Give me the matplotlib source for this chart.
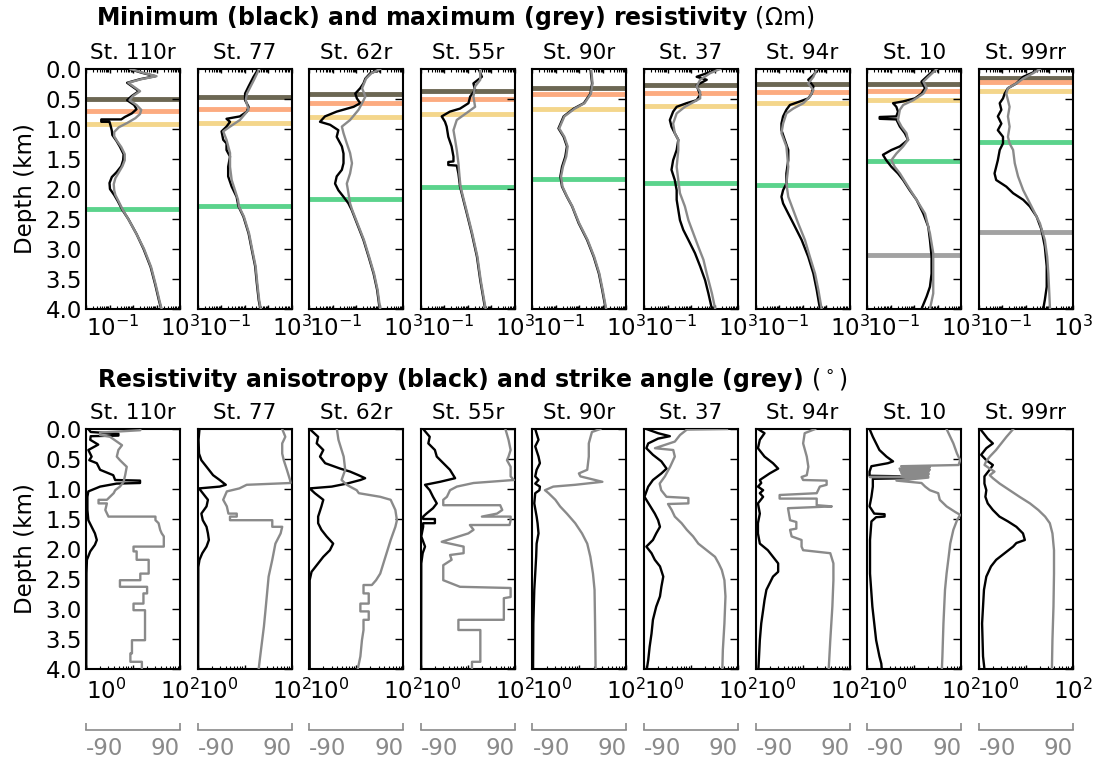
import numpy as np
import matplotlib
matplotlib.use("Agg")
import matplotlib.pyplot as plt
from matplotlib.ticker import LogLocator, NullFormatter

plt.rcParams["font.family"] = "DejaVu Sans"
plt.rcParams["axes.unicode_minus"] = False

stations = ["St. 110r", "St. 77", "St. 62r", "St. 55r", "St. 90r",
            "St. 37", "St. 94r", "St. 10", "St. 99rr"]

# ---- top row: (depth km, log10 resistivity Ohm m) ----
rmin_110r = [(0.00, 0.85), (0.06, 1.35), (0.12, 1.95), (0.17, 1.30), (0.23, 0.75), (0.30, 1.00),
             (0.37, 1.25), (0.45, 0.95), (0.52, 0.75), (0.60, 1.05), (0.67, 1.15), (0.74, 0.95),
             (0.80, 0.65), (0.84, 0.50), (0.84, -0.35), (0.88, -0.35), (0.88, 0.00), (0.95, 0.05),
             (1.03, 0.10), (1.10, 0.12), (1.20, 0.30), (1.30, 0.45), (1.42, 0.60), (1.52, 0.58),
             (1.62, 0.50), (1.72, 0.30), (1.80, 0.10), (1.90, 0.00), (2.00, 0.02), (2.10, 0.20),
             (2.20, 0.35), (2.35, 0.55), (2.50, 0.80), (2.75, 1.15), (3.00, 1.45), (3.30, 1.75),
             (3.60, 1.95), (3.85, 2.10), (4.00, 2.20)]
rmax_110r = [(0.00, 0.90), (0.06, 1.40), (0.12, 2.00), (0.17, 1.35), (0.23, 0.80), (0.30, 1.05),
             (0.37, 1.30), (0.45, 1.00), (0.52, 0.85), (0.60, 1.15), (0.68, 1.35), (0.75, 1.30),
             (0.82, 1.10), (0.90, 0.75), (0.97, 0.40), (1.05, 0.20), (1.12, 0.20), (1.20, 0.32),
             (1.30, 0.50), (1.42, 0.65), (1.52, 0.65), (1.62, 0.55), (1.72, 0.40), (1.82, 0.25),
             (1.92, 0.18), (2.02, 0.20), (2.10, 0.25), (2.20, 0.38), (2.35, 0.57), (2.50, 0.80),
             (2.75, 1.15), (3.00, 1.47), (3.30, 1.77), (3.60, 1.97), (3.85, 2.12), (4.00, 2.22)]
rmin_77 = [(0.00, 1.55), (0.04, 1.52), (0.13, 1.38), (0.29, 1.17), (0.41, 1.02), (0.52, 1.02),
           (0.63, 1.17), (0.71, 1.10), (0.79, 0.80), (0.83, 0.23), (0.88, 0.38), (0.96, 0.23),
           (1.04, 0.02), (1.18, 0.09), (1.24, 0.23), (1.35, 0.23), (1.46, 0.38), (1.63, 0.30),
           (1.79, 0.30), (1.96, 0.45), (2.13, 0.66), (2.29, 0.74), (2.46, 0.95), (2.74, 1.17),
           (3.02, 1.31), (3.29, 1.45), (3.57, 1.52), (3.85, 1.60), (4.00, 1.67)]
rmax_77 = [(0.00, 1.62), (0.18, 1.40), (0.41, 1.10), (0.52, 1.05), (0.68, 1.17), (0.85, 0.80),
           (0.96, 0.38), (1.04, 0.09), (1.18, 0.23), (1.40, 0.38), (1.63, 0.38), (1.85, 0.45),
           (2.02, 0.59), (2.18, 0.72), (2.29, 0.76), (2.46, 0.97), (2.74, 1.19), (3.02, 1.33),
           (3.29, 1.47), (3.57, 1.54), (3.85, 1.62), (4.00, 1.69)]
rmin_62r = [(0.00, 2.00), (0.02, 1.96), (0.07, 1.60), (0.16, 1.39), (0.24, 1.31), (0.32, 1.17),
            (0.41, 0.96), (0.49, 1.03), (0.57, 1.17), (0.63, 0.89), (0.71, 0.17), (0.79, -0.33),
            (0.88, -0.54), (0.93, -0.11), (1.02, 0.24), (1.13, 0.17), (1.29, 0.39), (1.41, 0.46),
            (1.57, 0.46), (1.68, 0.39), (1.79, 0.17), (1.91, 0.10), (2.02, 0.24), (2.13, 0.46),
            (2.24, 0.67), (2.35, 0.81), (2.57, 1.03), (2.85, 1.31), (3.13, 1.53), (3.41, 1.74),
            (3.68, 1.89), (4.00, 2.00)]
rmax_62r = [(0.00, 2.02), (0.07, 1.65), (0.16, 1.42), (0.32, 1.25), (0.46, 1.39), (0.57, 1.25),
            (0.68, 1.10), (0.85, 0.74), (0.96, 0.39), (1.07, 0.46), (1.24, 0.60), (1.40, 0.74),
            (1.57, 0.82), (1.74, 0.74), (1.91, 0.60), (2.07, 0.67), (2.24, 0.74), (2.35, 0.83),
            (2.57, 1.05), (2.85, 1.33), (3.13, 1.55), (3.41, 1.76), (3.68, 1.91), (4.00, 2.02)]
rmin_55r = [(0.00, 1.46), (0.13, 1.60), (0.24, 1.24), (0.35, 1.31), (0.46, 1.10), (0.57, 1.03),
            (0.66, 0.67), (0.71, 0.24), (0.79, -0.11), (0.88, 0.03), (0.96, 0.10), (1.13, 0.17),
            (1.29, 0.31), (1.46, 0.39), (1.54, 0.39), (1.55, 0.17), (1.60, 0.17), (1.61, 0.53),
            (1.74, 0.60), (1.96, 0.67), (2.18, 0.81), (2.41, 0.96), (2.74, 1.17), (3.13, 1.39),
            (3.52, 1.53), (4.00, 1.74)]
rmax_55r = [(0.00, 1.53), (0.18, 1.53), (0.29, 1.31), (0.46, 1.24), (0.63, 1.31), (0.71, 1.03),
            (0.85, 0.53), (1.02, 0.39), (1.18, 0.46), (1.35, 0.53), (1.57, 0.60), (1.80, 0.65),
            (1.96, 0.69), (2.18, 0.83), (2.41, 0.98), (2.74, 1.19), (3.13, 1.41), (3.52, 1.55),
            (4.00, 1.76)]
rmin_90r = [(0.00, 1.47), (0.24, 1.54), (0.41, 1.47), (0.57, 1.19), (0.66, 0.76), (0.79, 0.33),
            (0.99, 0.11), (1.13, 0.33), (1.29, 0.47), (1.46, 0.40), (1.63, 0.26), (1.79, 0.19),
            (1.96, 0.26), (2.13, 0.47), (2.29, 0.69), (2.57, 0.97), (2.85, 1.33), (3.13, 1.61),
            (3.41, 1.83), (3.68, 1.97), (4.00, 2.12)]
rmax_90r = [(0.00, 1.50), (0.24, 1.56), (0.41, 1.49), (0.57, 1.22), (0.66, 0.80), (0.79, 0.36),
            (0.99, 0.14), (1.13, 0.36), (1.29, 0.50), (1.46, 0.44), (1.63, 0.30), (1.79, 0.22),
            (1.96, 0.28), (2.13, 0.48), (2.29, 0.70), (2.57, 0.99), (2.85, 1.35), (3.13, 1.63),
            (3.41, 1.85), (3.68, 1.99), (4.00, 2.14)]
rmin_37 = [(0.00, 2.17), (0.07, 1.67), (0.13, 1.24), (0.18, 1.67), (0.27, 1.24), (0.35, 1.31),
           (0.43, 1.39), (0.52, 1.24), (0.57, 0.81), (0.63, 0.39), (0.71, 0.24), (0.85, 0.10),
           (0.96, 0.17), (1.07, 0.31), (1.18, 0.46), (1.35, 0.39), (1.52, 0.24), (1.68, 0.17),
           (1.85, 0.31), (2.02, 0.39), (2.18, 0.39), (2.35, 0.46), (2.52, 0.53), (2.68, 0.67),
           (2.85, 0.89), (3.07, 1.17), (3.29, 1.39), (3.52, 1.60), (3.74, 1.74), (4.00, 1.89)]
rmax_37 = [(0.00, 2.24), (0.07, 1.81), (0.18, 1.39), (0.29, 1.24), (0.38, 1.39), (0.49, 1.39),
           (0.63, 0.74), (0.74, 0.39), (0.91, 0.24), (1.07, 0.31), (1.18, 0.46), (1.35, 0.46),
           (1.63, 0.39), (1.85, 0.46), (2.07, 0.53), (2.29, 0.74), (2.52, 0.89), (2.74, 1.10),
           (2.96, 1.31), (3.18, 1.53), (3.41, 1.67), (3.74, 1.89), (4.00, 2.03)]
rmin_94r = [(0.00, 1.67), (0.10, 1.46), (0.18, 1.24), (0.29, 1.46), (0.41, 1.39), (0.49, 1.24),
            (0.54, 0.89), (0.60, 0.46), (0.68, 0.31), (0.79, 0.17), (0.91, 0.10), (1.02, 0.10),
            (1.18, 0.24), (1.35, 0.39), (1.52, 0.39), (1.74, 0.31), (1.91, 0.31), (2.02, 0.17),
            (2.13, 0.10), (2.24, 0.17), (2.41, 0.39), (2.57, 0.60), (2.85, 0.96), (3.13, 1.24),
            (3.41, 1.46), (3.68, 1.60), (4.00, 1.74)]
rmax_94r = [(0.00, 1.60), (0.13, 1.46), (0.24, 1.24), (0.35, 1.46), (0.46, 1.31), (0.57, 1.03),
            (0.66, 0.60), (0.74, 0.31), (0.91, 0.17), (1.07, 0.10), (1.29, 0.31), (1.63, 0.39),
            (1.91, 0.31), (2.13, 0.39), (2.35, 0.60), (2.57, 0.81), (2.85, 1.10), (3.13, 1.31),
            (3.41, 1.53), (3.68, 1.67), (4.00, 1.81)]
rmin_10 = [(0.00, 1.89), (0.13, 1.53), (0.21, 1.31), (0.32, 1.46), (0.41, 1.31), (0.49, 1.03),
           (0.54, 0.53), (0.57, 0.10), (0.63, 0.24), (0.71, 0.31), (0.79, 0.24), (0.80, -0.47),
           (0.83, -0.47), (0.84, 0.24), (0.96, 0.39), (1.07, 0.60), (1.18, 0.74), (1.29, 0.39),
           (1.35, 0.03), (1.43, -0.33), (1.52, -0.19), (1.63, 0.03), (1.74, 0.31), (1.85, 0.53),
           (2.02, 0.81), (2.18, 1.10), (2.41, 1.39), (2.63, 1.60), (2.85, 1.67), (3.13, 1.74),
           (3.41, 1.74), (3.63, 1.67), (3.79, 1.53), (4.00, 1.31)]
rmax_10 = [(0.00, 1.96), (0.13, 1.60), (0.21, 1.39), (0.32, 1.53), (0.41, 1.39), (0.52, 0.96),
           (0.60, 0.53), (0.68, 0.39), (0.85, 0.31), (0.96, 0.46), (1.07, 0.67), (1.18, 0.74),
           (1.29, 0.53), (1.41, 0.24), (1.52, 0.03), (1.63, 0.17), (1.74, 0.39), (1.96, 0.74),
           (2.18, 1.10), (2.41, 1.46), (2.74, 1.67), (3.07, 1.81), (3.41, 1.81), (3.74, 1.81),
           (4.00, 1.67)]
rmin_99rr = [(0.00, 1.60), (0.07, 1.24), (0.13, 0.89), (0.24, 0.60), (0.32, 0.24), (0.41, 0.10),
             (0.49, 0.03), (0.57, -0.11), (0.68, -0.04), (0.79, -0.19), (0.91, -0.04), (1.02, -0.19),
             (1.13, 0.03), (1.24, 0.03), (1.35, -0.11), (1.52, -0.19), (1.63, -0.26), (1.74, -0.33),
             (1.85, -0.26), (1.96, 0.17), (2.07, 0.46), (2.18, 0.89), (2.29, 1.17), (2.46, 1.46),
             (2.68, 1.67), (2.96, 1.81), (3.29, 1.89), (3.63, 1.89), (3.85, 1.81), (4.00, 1.74)]
rmax_99rr = [(0.00, 1.60), (0.07, 1.31), (0.16, 0.89), (0.24, 0.60), (0.32, 0.24), (0.41, 0.17),
             (0.52, 0.24), (0.63, 0.31), (0.79, 0.24), (0.96, 0.31), (1.13, 0.24), (1.24, 0.31),
             (1.35, 0.46), (1.57, 0.53), (1.79, 0.67), (2.02, 0.89), (2.29, 1.24), (2.57, 1.60),
             (2.85, 1.81), (3.13, 1.91), (3.41, 1.96), (3.74, 2.00), (4.00, 2.03)]

# interface depths (km): dark, orange, yellow, green, grey
iface_110r = [0.50, 0.70, 0.91, 2.34]
iface_77 = [0.47, 0.66, 0.90, 2.28]
iface_62r = [0.41, 0.56, 0.80, 2.16]
iface_55r = [0.36, 0.50, 0.745, 1.97]
iface_90r = [0.31, 0.42, 0.67, 1.83]
iface_37 = [0.26, 0.40, 0.62, 1.90]
iface_94r = [0.245, 0.38, 0.57, 1.94]
iface_10 = [0.245, 0.37, 0.52, 1.53, 3.10]
iface_99rr = [0.145, 0.22, 0.37, 1.21, 2.71]

# ---- bottom row: anisotropy (depth km, log10 ratio) and strike (depth km, deg) ----
anis_110r = [(0.00, 0.05), (0.05, 0.10), (0.08, 0.69), (0.11, 0.69), (0.12, 0.10), (0.18, 0.09),
             (0.26, 0.26), (0.35, 0.05), (0.46, 0.12), (0.52, 0.07), (0.57, 0.23), (0.68, 0.30),
             (0.77, 0.58), (0.85, 0.62), (0.86, 1.15), (0.90, 1.15), (0.91, 0.65), (0.96, 0.30),
             (1.04, 0.05), (1.13, 0.03), (1.35, 0.03), (1.52, 0.05), (1.63, 0.12), (1.74, 0.19),
             (1.85, 0.23), (1.93, 0.19), (2.04, 0.09), (2.18, 0.02), (2.40, 0.01), (4.00, 0.005)]
strike_110r = [(0.00, 14), (0.02, 14), (0.06, -63), (0.10, -63), (0.13, -44), (0.27, -21),
               (0.35, -28), (0.46, -31), (0.52, -25), (0.63, -12), (0.77, -15), (0.88, -18),
               (0.96, -25), (1.02, -34), (1.07, -37), (1.18, -50), (1.18, -66), (1.24, -66),
               (1.24, -50), (1.35, -53), (1.46, -47), (1.46, 43), (1.52, 43), (1.57, 49),
               (1.68, 52), (1.74, 55), (1.79, 59), (1.96, 59), (1.96, 1), (2.04, 1), (2.04, 7),
               (2.18, 7), (2.18, 30), (2.41, 30), (2.41, 14), (2.52, 14), (2.52, -25), (2.63, -25),
               (2.63, 27), (2.74, 27), (2.74, 20), (2.91, 20), (2.91, 1), (3.02, 1), (3.02, 23),
               (3.52, 23), (3.52, -2), (3.74, -2), (3.74, -5), (3.88, -5), (3.88, 17), (4.00, 17)]
anis_77 = [(0.00, 0.04), (0.18, 0.02), (0.41, 0.03), (0.52, 0.08), (0.63, 0.19), (0.77, 0.33),
           (0.85, 0.47), (0.93, 0.60), (0.96, 0.47), (0.99, 0.03), (1.07, 0.11), (1.18, 0.22),
           (1.29, 0.19), (1.41, 0.08), (1.52, 0.11), (1.63, 0.19), (1.74, 0.22), (1.85, 0.24),
           (1.96, 0.19), (2.07, 0.10), (2.18, 0.04), (2.30, 0.015), (4.00, 0.01)]
strike_77 = [(0.00, 72), (0.13, 78), (0.24, 72), (0.41, 72), (0.52, 75), (0.68, 81), (0.85, 87),
             (0.90, 88), (0.93, 4), (0.99, -10), (1.04, -34), (1.18, -41), (1.29, -34), (1.41, -31),
             (1.41, -15), (1.46, -15), (1.46, -28), (1.52, -28), (1.52, 53), (1.63, 53), (1.63, 72),
             (1.74, 69), (1.91, 59), (2.18, 53), (2.46, 46), (2.74, 43), (3.02, 40), (3.29, 37),
             (3.57, 33), (3.85, 29), (4.00, 27)]
anis_62r = [(0.00, 0.01), (0.13, 0.19), (0.24, 0.16), (0.35, 0.30), (0.46, 0.23), (0.57, 0.34),
            (0.66, 0.66), (0.71, 0.87), (0.77, 1.05), (0.82, 1.19), (0.85, 1.09), (0.91, 0.80),
            (0.96, 0.48), (0.99, 0.01), (1.07, 0.12), (1.18, 0.30), (1.29, 0.26), (1.46, 0.19),
            (1.57, 0.19), (1.68, 0.26), (1.79, 0.37), (1.91, 0.51), (2.02, 0.44), (2.13, 0.30),
            (2.24, 0.19), (2.38, 0.05), (2.52, 0.01), (4.00, 0.01)]
strike_62r = [(0.00, -37), (0.18, -34), (0.46, -24), (0.68, -21), (0.85, -28), (0.93, -18),
              (0.96, -12), (1.02, 1), (1.07, 5), (1.13, 46), (1.18, 66), (1.35, 75), (1.52, 78),
              (1.63, 75), (1.85, 66), (2.13, 56), (2.41, 46), (2.52, 38), (2.60, 30), (2.60, 14),
              (2.74, 14), (2.74, 24), (2.91, 24), (2.91, 8), (3.04, 8), (3.04, 24), (3.18, 24),
              (3.18, 14), (3.35, 14), (3.52, 11), (3.79, 8), (4.00, 3)]
anis_55r = [(0.00, 0.05), (0.13, 0.19), (0.24, 0.16), (0.35, 0.30), (0.46, 0.34), (0.57, 0.48),
            (0.68, 0.62), (0.82, 0.73), (0.88, 0.41), (0.93, 0.09), (1.02, 0.19), (1.13, 0.26),
            (1.24, 0.34), (1.32, 0.26), (1.41, 0.12), (1.46, 0.05), (1.50, 0.05), (1.50, 0.30),
            (1.57, 0.30), (1.57, 0.05), (1.63, 0.05), (1.79, 0.01), (1.96, 0.09), (2.07, 0.04),
            (2.24, 0.01), (4.00, 0.007)]
strike_55r = [(0.00, 72), (0.18, 78), (0.35, 82), (0.46, 78), (0.52, 75), (0.63, 82), (0.79, 82),
              (0.85, 88), (0.90, 11), (0.96, -21), (1.02, -34), (1.13, -40), (1.18, -47),
              (1.27, -47), (1.27, 62), (1.35, 66), (1.41, 56), (1.46, 27), (1.46, 82), (1.52, 82),
              (1.60, 80), (1.60, 4), (1.68, 11), (1.74, 1), (1.88, -50), (1.96, -8), (2.07, -8),
              (2.10, -34), (2.18, -31), (2.27, -47), (2.52, -47), (2.63, -15), (2.65, 82),
              (2.80, 82), (2.82, 69), (3.18, 69), (3.18, -18), (3.35, -18), (3.35, 24), (3.88, 24),
              (3.88, 8), (4.00, 8)]
anis_90r = [(0.00, 0.06), (0.18, 0.13), (0.29, 0.06), (0.46, 0.13), (0.57, 0.16), (0.68, 0.09),
            (0.79, 0.06), (0.85, 0.13), (0.91, 0.06), (0.96, 0.16), (1.02, 0.15), (1.07, 0.06),
            (1.24, 0.04), (1.46, 0.09), (1.57, 0.11), (1.74, 0.13), (1.91, 0.09), (2.13, 0.08),
            (2.41, 0.06), (2.68, 0.04), (3.24, 0.02), (4.00, 0.014)]
strike_90r = [(0.00, 40), (0.05, 24), (0.24, 18), (0.46, 18), (0.68, 15), (0.74, -1), (0.79, 2),
              (0.88, 44), (0.93, -8), (0.96, -50), (1.02, -66), (1.07, -59), (1.18, -46),
              (1.29, -37), (1.41, -24), (1.57, -8), (1.74, 5), (1.91, 15), (2.13, 21), (2.41, 26),
              (2.68, 29), (3.24, 30), (4.00, 31)]
anis_37 = [(0.00, 0.05), (0.07, 0.30), (0.12, 0.55), (0.16, 0.30), (0.24, 0.09), (0.32, 0.05),
           (0.43, 0.19), (0.54, 0.37), (0.66, 0.48), (0.74, 0.37), (0.85, 0.19), (0.96, 0.09),
           (1.13, 0.01), (1.27, 0.12), (1.41, 0.23), (1.52, 0.30), (1.63, 0.34), (1.74, 0.26),
           (1.85, 0.19), (1.96, 0.05), (2.07, 0.16), (2.18, 0.23), (2.29, 0.34), (2.46, 0.41),
           (2.63, 0.37), (2.79, 0.34), (2.96, 0.26), (3.18, 0.19), (3.41, 0.16), (3.63, 0.12),
           (3.85, 0.09), (4.00, 0.06)]
strike_37 = [(0.00, 69), (0.01, -8), (0.10, -21), (0.21, -31), (0.32, -69), (0.35, -34),
             (0.46, -31), (0.63, -40), (0.79, -50), (0.91, -60), (1.02, -57), (1.13, -47),
             (1.15, -5), (1.24, -5), (1.25, -44), (1.35, -37), (1.46, -31), (1.57, -18),
             (1.68, -8), (1.79, 4), (1.91, 14), (2.02, 30), (2.13, 46), (2.24, 53), (2.35, 59),
             (2.52, 64), (2.79, 66), (3.24, 64), (3.68, 61), (4.00, 60)]
anis_94r = [(0.00, 0.05), (0.07, 0.19), (0.18, 0.09), (0.32, 0.05), (0.46, 0.19), (0.57, 0.37),
            (0.66, 0.48), (0.74, 0.30), (0.85, 0.09), (0.90, 0.12), (0.96, 0.05), (1.02, 0.16),
            (1.07, 0.09), (1.13, 0.16), (1.24, 0.05), (1.41, 0.09), (1.57, 0.05), (1.74, 0.05),
            (1.91, 0.09), (2.02, 0.26), (2.13, 0.37), (2.24, 0.48), (2.38, 0.48), (2.46, 0.37),
            (2.57, 0.30), (2.68, 0.23), (2.85, 0.19), (3.02, 0.16), (3.24, 0.12), (3.52, 0.09),
            (4.00, 0.06)]
strike_94r = [(0.00, 24), (0.07, 4), (0.24, 1), (0.46, 8), (0.63, 11), (0.77, 8), (0.80, -2),
              (0.85, 1), (0.86, 46), (0.93, 46), (0.96, 33), (1.07, 27), (1.10, -44), (1.16, -44),
              (1.16, 27), (1.27, 27), (1.29, 56), (1.32, -28), (1.52, -24), (1.55, -12),
              (1.66, -12), (1.68, -24), (1.79, -21), (1.85, -2), (1.96, -2), (2.02, 1), (2.07, 53),
              (2.24, 59), (2.52, 59), (2.96, 57), (3.52, 53), (4.00, 50)]
anis_10 = [(0.00, 0.05), (0.13, 0.12), (0.24, 0.19), (0.35, 0.26), (0.46, 0.41), (0.54, 0.55),
           (0.57, 0.44), (0.62, 0.09), (0.71, 0.05), (0.78, 0.05), (0.79, 0.84), (0.82, 0.84),
           (0.83, 0.12), (0.96, 0.12), (1.13, 0.09), (1.29, 0.05), (1.41, 0.15), (1.42, 0.37),
           (1.46, 0.37), (1.47, 0.19), (1.54, 0.09), (1.85, 0.06), (2.41, 0.06), (2.96, 0.11),
           (3.52, 0.19), (3.79, 0.26), (3.91, 0.30), (4.00, 0.31)]
strike_10 = [(0.00, 62), (0.13, 69), (0.24, 75), (0.41, 82), (0.52, 88), (0.60, 85), (0.62, -25),
             (0.64, 30), (0.66, -28), (0.68, 30), (0.69, -27), (0.71, 28), (0.73, -25), (0.75, 28),
             (0.77, -24), (0.79, 27), (0.80, -85), (0.81, 27), (0.86, -34), (0.90, 14), (0.96, 21),
             (1.02, 30), (1.07, 46), (1.18, 49), (1.29, 62), (1.38, 78), (1.43, 88), (1.52, 82),
             (1.68, 75), (1.91, 69), (2.13, 66), (2.41, 62), (2.68, 59), (3.24, 56), (3.79, 54),
             (4.00, 53)]
anis_99rr = [(0.00, 0.03), (0.16, 0.19), (0.24, 0.30), (0.32, 0.16), (0.43, 0.05), (0.52, 0.16),
             (0.60, 0.30), (0.68, 0.23), (0.79, 0.12), (0.91, 0.12), (1.02, 0.16), (1.13, 0.14),
             (1.24, 0.19), (1.35, 0.30), (1.46, 0.44), (1.54, 0.62), (1.63, 0.80), (1.74, 0.94),
             (1.85, 0.98), (1.90, 0.80), (1.96, 0.73), (2.07, 0.55), (2.18, 0.37), (2.29, 0.26),
             (2.46, 0.16), (2.68, 0.11), (2.96, 0.09), (3.24, 0.07), (3.79, 0.09), (4.00, 0.12)]
strike_99rr = [(0.00, -24), (0.13, -37), (0.24, -47), (0.35, -57), (0.46, -69), (0.54, -76),
               (0.60, -79), (0.66, -69), (0.71, -60), (0.77, -69), (0.82, -63), (0.91, -50),
               (1.02, -31), (1.13, -12), (1.24, 8), (1.35, 24), (1.46, 37), (1.57, 46), (1.74, 51),
               (2.02, 54), (2.41, 54), (2.96, 53), (3.52, 51), (4.00, 50)]

rmin_all = [rmin_110r, rmin_77, rmin_62r, rmin_55r, rmin_90r, rmin_37, rmin_94r, rmin_10, rmin_99rr]
rmax_all = [rmax_110r, rmax_77, rmax_62r, rmax_55r, rmax_90r, rmax_37, rmax_94r, rmax_10, rmax_99rr]
iface_all = [iface_110r, iface_77, iface_62r, iface_55r, iface_90r, iface_37, iface_94r, iface_10, iface_99rr]
anis_all = [anis_110r, anis_77, anis_62r, anis_55r, anis_90r, anis_37, anis_94r, anis_10, anis_99rr]
strike_all = [strike_110r, strike_77, strike_62r, strike_55r, strike_90r, strike_37, strike_94r,
              strike_10, strike_99rr]

layer_colors = ["#6c6753", "#fcab80", "#f4d68b", "#5bd38c", "#a2a2a2"]
GREY = "#8a8a8a"
TICK_FS = 16.5

W, H = 1097, 761
fig = plt.figure(figsize=(W / 100, H / 100), dpi=100)


def rect(i, top):
    left = 86 + 111.6 * i
    return [left / W, 1 - (top + 240) / H, 94 / W, 240 / H]


def style(ax, first, ticks, labels, top_ticks):
    ax.set_ylim(4, 0)
    ax.set_yticks(np.arange(0, 4.01, 0.5))
    ax.set_yticklabels([f"{v:.1f}" for v in np.arange(0, 4.01, 0.5)])
    ax.tick_params(axis="y", left=False, right=True, labelleft=first, labelright=False,
                   direction="in", length=6, width=1, labelsize=TICK_FS, pad=3)
    ax.set_xticks(ticks)
    ax.set_xticklabels(labels)
    ax.xaxis.set_minor_locator(LogLocator(base=10, subs=np.arange(2, 10)))
    ax.xaxis.set_minor_formatter(NullFormatter())
    ax.tick_params(axis="x", which="both", direction="in", top=top_ticks, bottom=True)
    ax.tick_params(axis="x", which="major", length=3, width=1, labelsize=TICK_FS, pad=5)
    ax.tick_params(axis="x", which="minor", length=2, width=0.8)
    ax.get_xticklabels()[0].set_horizontalalignment("left")
    for s in ax.spines.values():
        s.set_linewidth(1.5)
    if first:
        ax.set_ylabel("Depth (km)", fontsize=16.5, labelpad=6)


# top row
for i, name in enumerate(stations):
    ax = fig.add_axes(rect(i, 69))
    for z, c in zip(iface_all[i], layer_colors):
        ax.axhline(z, color=c, lw=3.5, zorder=1)
    d, v = np.array(rmin_all[i]).T
    ax.plot(10 ** v, d, color="black", lw=1.7, zorder=2)
    d, v = np.array(rmax_all[i]).T
    ax.plot(10 ** v, d, color=GREY, lw=1.7, zorder=3)
    ax.set_xscale("log")
    ax.set_xlim(0.1, 1000)
    style(ax, i == 0, [0.1, 1, 10, 100, 1000], ["$10^{-1}$", "", "", "", "$10^{3}$"], True)
    ax.set_title(name, fontsize=15.5, pad=7)

# bottom row
for i, name in enumerate(stations):
    ax = fig.add_axes(rect(i, 429))
    d, v = np.array(anis_all[i]).T
    ax.plot(10 ** v, d, color="black", lw=1.7)
    ax.set_xscale("log")
    ax.set_xlim(1, 100)
    style(ax, i == 0, [1, 10, 100], ["$10^{0}$", "", "$10^{2}$"], False)
    ax.tick_params(axis="x", which="major", pad=7)
    ax.set_title(name, fontsize=15.5, pad=7)

    ax2 = ax.twiny()
    d, v = np.array(strike_all[i]).T
    ax2.plot(v, d, color=GREY, lw=1.7)
    ax2.set_xlim(-90, 90)
    ax2.set_ylim(4, 0)
    ax2.xaxis.set_ticks_position("bottom")
    ax2.xaxis.set_label_position("bottom")
    ax2.spines["bottom"].set_position(("outward", 44))
    ax2.spines["bottom"].set_color(GREY)
    ax2.spines["bottom"].set_linewidth(1.2)
    for s in ["top", "left", "right"]:
        ax2.spines[s].set_visible(False)
    ax2.set_xticks([-90, 90])
    ax2.tick_params(axis="x", direction="in", length=5, width=1.2, color=GREY,
                    labelcolor=GREY, labelsize=TICK_FS, pad=5, top=False, bottom=True)
    lab = ax2.get_xticklabels()
    lab[0].set_horizontalalignment("left")
    lab[1].set_horizontalalignment("right")

fig.text(96 / W, 1 - 18 / H, r"Minimum (black) and maximum (grey) resistivity $(\Omega\mathrm{m})$",
         fontsize=17, fontweight="bold", ha="left", va="center")
fig.text(97 / W, 1 - 380 / H, r"Resistivity anisotropy (black) and strike angle (grey) $(^\circ)$",
         fontsize=17, fontweight="bold", ha="left", va="center")

fig.savefig("out.png", dpi=100)
